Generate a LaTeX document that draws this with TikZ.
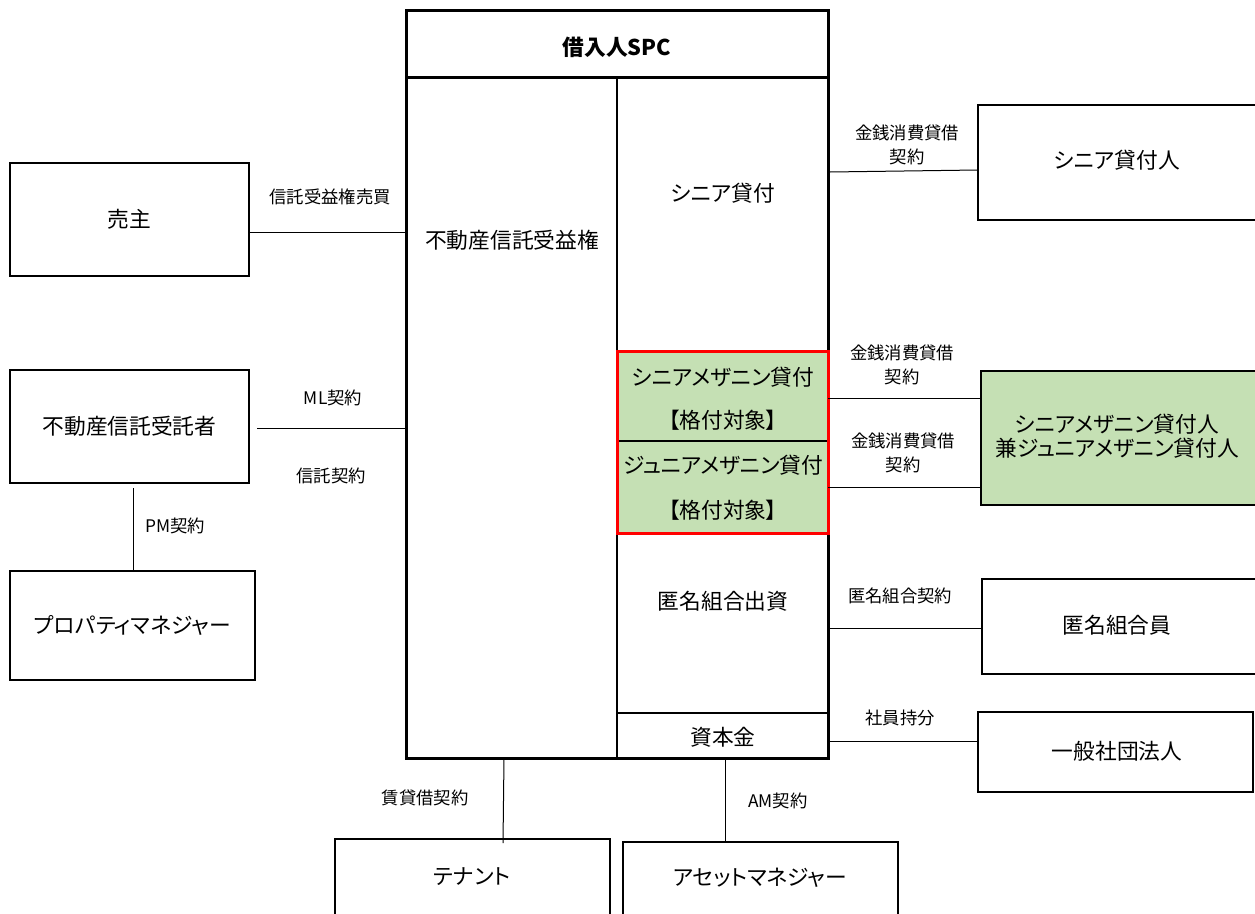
\documentclass[tikz,border=0pt]{standalone}
\usepackage{fontspec}
\setmainfont{Noto Sans CJK JP}[RawFeature=+palt]
\usetikzlibrary{calc}
\definecolor{gfill}{RGB}{197,224,180}
\definecolor{rline}{RGB}{255,0,0}
\tikzset{
  px/.style={x=0.75pt,y=-0.75pt},
  box/.style={draw=black,line width=1.5pt,fill=white,inner sep=0pt,outer sep=0pt},
  big/.style={font=\fontsize{16.3}{18}\selectfont,inner sep=0pt,align=center},
  lbl/.style={font=\fontsize{13}{18}\selectfont,inner sep=0pt,align=center},
  conn/.style={line width=0.75pt},
  thin/.style={line width=0.9pt}
}
\begin{document}
\begin{tikzpicture}[px]
\useasboundingbox (0,0) rectangle (1255,913);
\begin{scope}
\clip (0,0) rectangle (1255,913);
% SPC green part
\fill[gfill] (617,351) rectangle (828,533);
% SPC structure
\node[draw=black,line width=2.25pt,inner sep=0pt,outer sep=0pt,minimum width=422*0.75pt,minimum height=747*0.75pt] (spc) at (617,384.5) {};
\coordinate (hl) at (406,78);
\coordinate (hr) at (828,78);
\draw[line width=2.25pt] (hl) -- (hr);
\coordinate (dt) at (617,78);
\coordinate (db) at (617,758);
\draw[thin] (dt) -- (db);
\coordinate (cl) at (617,713);
\coordinate (cr) at (828,713);
\draw[thin] (cl) -- (cr);
\coordinate (ml) at (617,441);
\coordinate (mr) at (828,441);
\draw[line width=1.2pt] (ml) -- (mr);
\draw[rline,line width=2.25pt] (617,351) rectangle (828,533);

\node[big,font=\fontsize{16.3}{18}\selectfont\bfseries] (title) at (617,47) {借入人SPC};
\node[big] (trb) at (512,240) {不動産信託受益権};
\node[big] (sen) at (723,193) {シニア貸付};
\node[big] (sm) at (723,377) {シニアメザニン貸付};
\node[big] (sm2) at (723,420) {【格付対象】};
\node[big] (jm) at (723,465) {ジュニアメザニン貸付};
\node[big] (jm2) at (723,510) {【格付対象】};
\node[big] (tk) at (723,601) {匿名組合出資};
\node[big] (cap) at (723,737) {資本金};

% left boxes
\node[box,minimum width=239*0.75pt,minimum height=113*0.75pt] (seller) at (129.5,219.5) {};
\node[big] at (seller.center) {売主};
\node[box,minimum width=239*0.75pt,minimum height=113*0.75pt] (trustee) at (129.5,426.5) {};
\node[big] at (trustee.center) {不動産信託受託者};
\node[box,minimum width=245*0.75pt,minimum height=109*0.75pt] (pm) at (132.5,625.5) {};
\node[big] at (pm.center) {プロパティマネジャー};

% right boxes
\node[box,minimum width=292*0.75pt,minimum height=115*0.75pt] (slend) at (1124,162.5) {};
\node[big] at (1117,160) {シニア貸付人};
\node[box,fill=gfill,minimum width=289*0.75pt,minimum height=134*0.75pt] (mlend) at (1125.5,438) {};
\node[big] at (1117,436) {シニアメザニン貸付人\\兼ジュニアメザニン貸付人};
\node[box,minimum width=288*0.75pt,minimum height=95*0.75pt] (tki) at (1126,626.5) {};
\node[big] at (1117,625) {匿名組合員};
\node[box,minimum width=275*0.75pt,minimum height=80*0.75pt] (ippan) at (1115.5,752) {};
\node[big] at (1117,751) {一般社団法人};

% bottom boxes
\node[box,minimum width=275*0.75pt,minimum height=100*0.75pt] (tenant) at (472.5,889) {};
\node[big] at (472,877) {テナント};
\node[box,minimum width=275*0.75pt,minimum height=100*0.75pt] (am) at (760.5,892) {};
\node[big] at (760,878) {アセットマネジャー};

% connectors
\coordinate (p1) at (406,232);
\draw[conn] (seller.east |- p1) -- (p1);
\coordinate (p2a) at (257,428);
\coordinate (p2) at (406,428);
\draw[conn] (p2a) -- (p2);
\coordinate (p3a) at (133,488);
\draw[conn] (p3a) -- (p3a |- pm.north);
\coordinate (p4a) at (830,172);
\coordinate (p4) at (978,170);
\draw[conn] (p4a) -- (p4);
\coordinate (p5) at (828,398);
\draw[conn] (p5) -- (p5 -| mlend.west);
\coordinate (p6) at (828,487);
\draw[conn] (p6) -- (p6 -| mlend.west);
\coordinate (p7) at (828,628);
\draw[conn] (p7) -- (p7 -| tki.west);
\coordinate (p8) at (828,741);
\draw[conn] (p8) -- (p8 -| ippan.west);
\coordinate (p9) at (504,758);
\coordinate (p9b) at (503,843);
\draw[conn] (p9) -- (p9b);
\coordinate (p10) at (725,758);
\coordinate (p10b) at (725,843);
\draw[conn] (p10) -- (p10b);

% labels
\node[lbl] (l1) at (330,197) {信託受益権売買};
\node[lbl] (l2) at (333,398) {ML契約};
\node[lbl] (l3) at (331,476) {信託契約};
\node[lbl] (l4) at (175,526) {PM契約};
\node[lbl] (l5) at (907,145) {金銭消費貸借\\契約};
\node[lbl] (l6) at (902,365) {金銭消費貸借\\契約};
\node[lbl] (l7) at (903,453) {金銭消費貸借\\契約};
\node[lbl] (l8) at (900,596) {匿名組合契約};
\node[lbl] (l9) at (900,718) {社員持分};
\node[lbl] (l10) at (425,798) {賃貸借契約};
\node[lbl] (l11) at (778,801) {AM契約};
\end{scope}
\end{tikzpicture}
\end{document}
